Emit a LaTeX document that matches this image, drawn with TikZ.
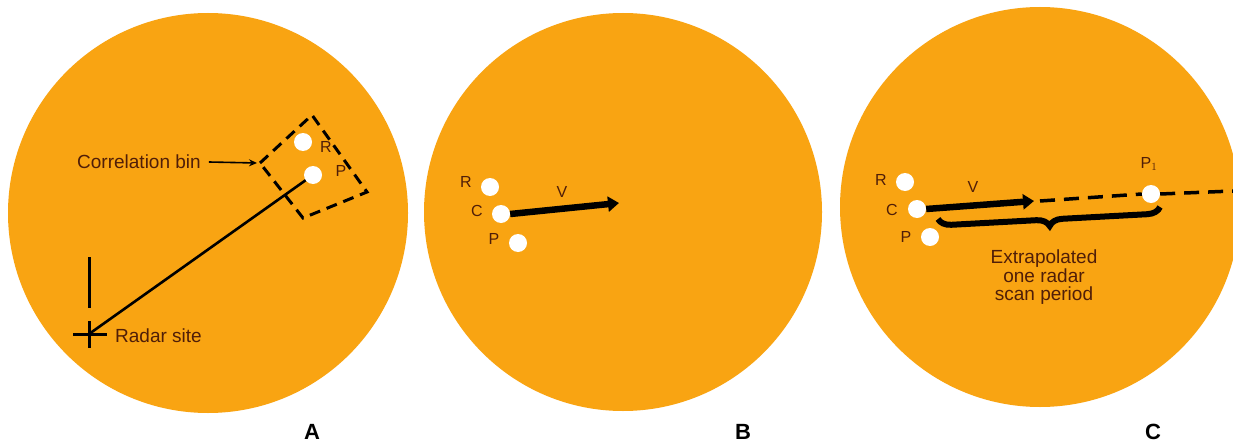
\documentclass[tikz,border=0pt]{standalone}
\usepackage{fontspec}
\setmainfont{Liberation Sans}
\usetikzlibrary{arrows.meta,decorations.pathreplacing}

\definecolor{scope}{RGB}{249,164,18}
\definecolor{ink}{RGB}{80,30,8}

\tikzset{
  blip/.style={circle, fill=white, minimum size=18pt, inner sep=0pt},
  lbl/.style={text=ink, font=\fontsize{16}{18}\selectfont, inner sep=1pt},
  txt/.style={text=ink, font=\fontsize{19}{18.5}\selectfont, inner sep=1pt},
  panel/.style={font=\fontsize{22}{24}\selectfont\bfseries},
  bin/.style={line width=3pt, dash pattern=on 11pt off 7pt},
  vel/.style={line width=6.5pt, -{Triangle[length=11pt,width=15pt]}},
  track/.style={line width=3.5pt, dash pattern=on 15pt off 9pt},
}

\begin{document}
\begin{tikzpicture}[x=1pt,y=-1pt]
\useasboundingbox[fill=white] (0,0) rectangle (1233,444);
\begin{scope}
\clip (0,0) rectangle (1233,444);
\fill[scope] (208,213) circle (200);
\fill[scope] (623,212) circle (199);
\fill[scope] (1040,207) circle (200);
\end{scope}

% A: correlation bin
\coordinate (site) at (89,334);
\coordinate (pa) at (313,175);
\draw[line width=2.6pt] (site) -- (pa);
\draw[line width=3pt] (73,334) -- (107,334) (89,321) -- (89,348);
\draw[line width=3pt] (89,257) -- (89,308);
\node[blip] (ra) at (303,142) {};
\node[blip] (pA) at (pa) {};
\node[lbl] at (326,147) {R};
\node[lbl] at (341,171) {P};
\coordinate (bintop) at (312,115);
\coordinate (binright) at (367,192);
\coordinate (binbot) at (303,218);
\coordinate (binleft) at (260,163);
\draw[bin] (binleft) -- (bintop) -- (binright) -- (binbot) -- cycle;
\node[txt, anchor=west] (bintext) at (76,162) {Correlation bin};
\draw[line width=1.6pt, -{Stealth[length=8pt,width=7pt]}] (bintext.east) ++(7,0) -- ([xshift=-3pt]binleft);
\node[txt, anchor=west] at (114,336) {Radar site};
\node[panel, anchor=south] at (312,443) {A};

% B: velocity
\node[blip] (rb) at (490,187) {};
\node[blip] (cb) at (501,214) {};
\node[blip] (pb) at (518,243) {};
\node[lbl] at (466,182) {R};
\node[lbl] at (477,211) {C};
\node[lbl] at (494,239) {P};
\node[lbl] at (562,192) {V};
\coordinate (vb) at (619,203);
\draw[vel] (cb.east) -- (vb);
\node[panel, anchor=south] at (743,443) {B};

% C: extrapolation
\node[blip] (rc) at (905,182) {};
\node[blip] (cc) at (917,209) {};
\node[blip] (pc) at (930,237) {};
\node[blip] (p1) at (1151,194) {};
\node[lbl] at (881,180) {R};
\node[lbl] at (892,210) {C};
\node[lbl] at (906,237) {P};
\node[lbl] at (973,187) {V};
\node[lbl] at (1149,164) {P$_1$};
\coordinate (vc) at (1034,201);
\coordinate (trackend) at (1233,191);
\draw[vel] (cc.east) -- (vc);
\draw[track] ([xshift=6pt]vc) -- (p1.west);
\draw[track] (p1.east) -- (trackend);
\coordinate (bl) at (938,219);
\coordinate (br) at (1160,207);
\draw[line width=6pt, decorate, decoration={brace, mirror, amplitude=13pt, aspect=0.5}] (bl) -- (br);
\node[txt, align=center, anchor=north] at (1044,249) {Extrapolated\\one radar\\scan period};
\node[panel, anchor=south] at (1153,443) {C};
\end{tikzpicture}
\end{document}
